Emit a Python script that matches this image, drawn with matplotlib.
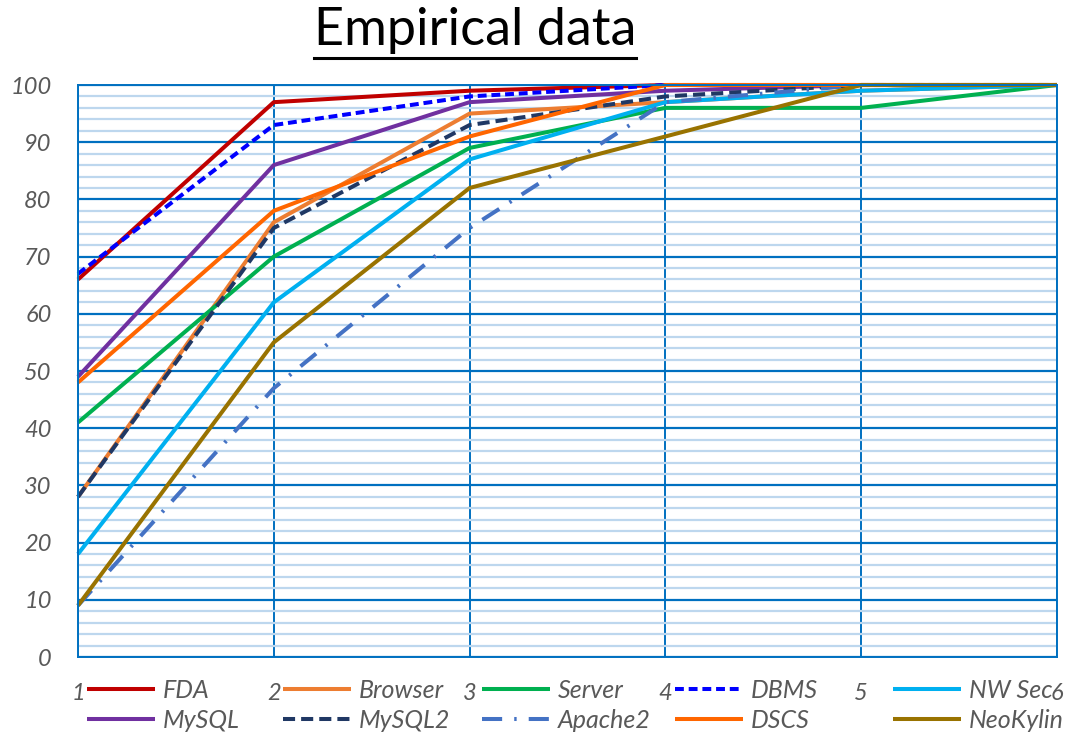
import matplotlib
matplotlib.use("Agg")
import matplotlib.pyplot as plt
from matplotlib.lines import Line2D
from matplotlib.ticker import MultipleLocator

plt.rcParams['font.family'] = ['Lato', 'DejaVu Sans']

x = [1, 2, 3, 4, 5, 6]

fda = [66, 97, 99, 100, 100, 100]
browser = [28, 76, 95, 97, 99, 100]
server = [41, 70, 89, 96, 96, 100]
dbms = [67, 93, 98, 100, 100, 100]
nw_sec = [18, 62, 87, 97, 99, 100]
mysql = [49, 86, 97, 99, 100, 100]
mysql2 = [28, 75, 93, 98, 100, 100]
apache2 = [9, 47, 75, 97, 100, 100]
dscs = [48, 78, 91, 100, 100, 100]
neokylin = [9, 55, 82, 91, 100, 100]

# (label, values, colour, linestyle) in drawing order
series = [
    ("FDA", fda, "#C00000", "-"),
    ("Browser", browser, "#ED7D31", "-"),
    ("Server", server, "#00B050", "-"),
    ("DBMS", dbms, "#0000FF", (0, (2.2, 1.2))),
    ("NW Sec", nw_sec, "#00B0F0", "-"),
    ("MySQL", mysql, "#7030A0", "-"),
    ("MySQL2", mysql2, "#203864", (0, (3, 1.5))),
    ("Apache2", apache2, "#4472C4", (0, (5, 3, 0.6, 3))),
    ("DSCS", dscs, "#FF6600", "-"),
    ("NeoKylin", neokylin, "#997300", "-"),
]

W, H = 1066, 737
fig = plt.figure(figsize=(W / 100, H / 100), dpi=100)
ax = fig.add_axes([78 / W, 1 - 657 / H, (1057 - 78) / W, (657 - 85) / H])

handles = {}
for name, vals, col, ls in series:
    ln, = ax.plot(x, vals, color=col, linestyle=ls, lw=2.9,
                  solid_capstyle='butt', dash_capstyle='butt', clip_on=False)
    handles[name] = ln

ax.set_xlim(1, 6)
ax.set_ylim(0, 100)
ax.set_xticks(x, [str(v) for v in x])
ax.yaxis.set_major_locator(MultipleLocator(10))
ax.yaxis.set_minor_locator(MultipleLocator(2))

ax.grid(axis='y', which='minor', color='#BDD7EE', lw=1.6, zorder=0)
ax.grid(axis='y', which='major', color='#0070C0', lw=1.6, zorder=0)
ax.grid(axis='x', which='major', color='#0070C0', lw=1.4, zorder=0)
ax.set_axisbelow(True)
for s in ax.spines.values():
    s.set_color('#0070C0')
    s.set_linewidth(1.4)

ax.tick_params(which='both', length=0)
ax.tick_params(axis='y', pad=19, labelsize=17, labelcolor='#595959')
ax.tick_params(axis='x', pad=19, labelsize=17, labelcolor='#595959')
for lab in ax.get_xticklabels() + ax.get_yticklabels():
    lab.set_fontstyle('italic')

# legend: five columns of two entries each
columns = [("FDA", "MySQL"), ("Browser", "MySQL2"), ("Server", "Apache2"),
           ("DBMS", "DSCS"), ("NW Sec", "NeoKylin")]
col_left = [87, 283, 482, 675, 893]
for names, left in zip(columns, col_left):
    leg = fig.legend([handles[n] for n in names], list(names),
                     loc='upper left', bbox_to_anchor=(left / W, 1 - 679 / H),
                     frameon=False, handlelength=2.7, handletextpad=0.35,
                     borderpad=0, borderaxespad=0, labelspacing=0.28,
                     prop={'size': 18, 'style': 'italic'})
    for t in leg.get_texts():
        t.set_color('#595959')

title = fig.text(475 / W, 1 - 31 / H, "Empirical data", ha='center', va='center',
                 fontsize=37.5, color='black')
fig.canvas.draw()
bb = title.get_window_extent()
uy = 1 - 58 / H
fig.add_artist(Line2D([bb.x0 / W, bb.x1 / W], [uy, uy], color='black', lw=2.2,
                      transform=fig.transFigure))

fig.savefig("out.png", dpi=100)
